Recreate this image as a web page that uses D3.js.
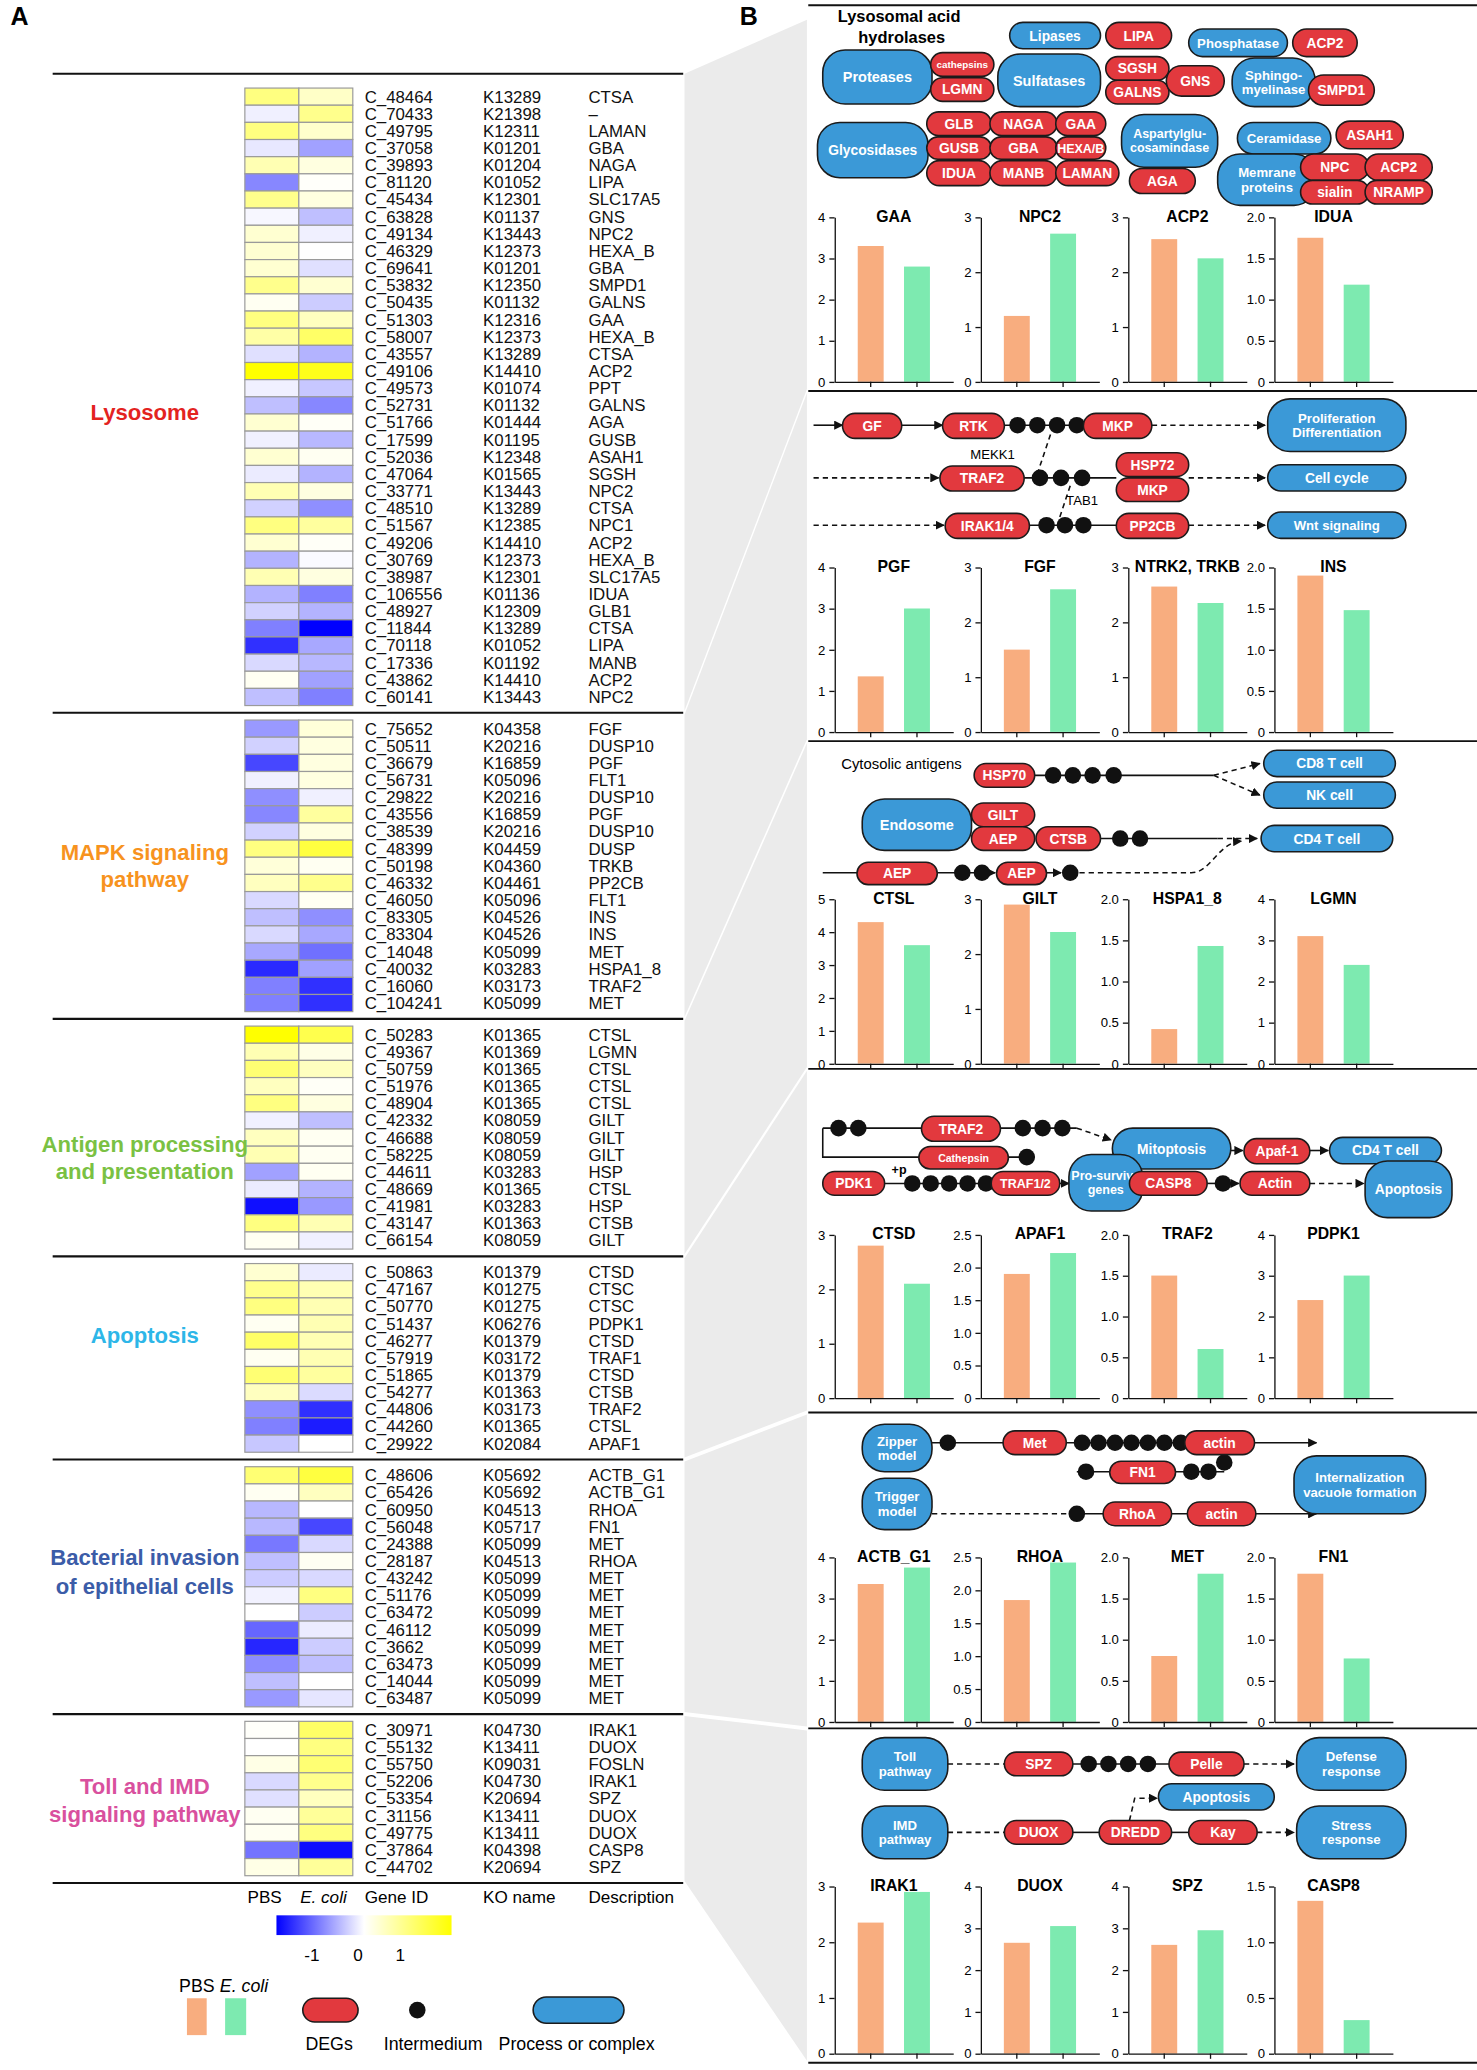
<!DOCTYPE html>
<html>
<head>
<meta charset="utf-8">
<script src="https://cdn.jsdelivr.net/npm/d3@7"></script>
<style>
body { margin: 0; background: #fff; }
svg { display: block; font-family: "Liberation Sans", Arial, sans-serif; }
</style>
</head>
<body>
<svg id="fig" width="1477" height="2070" viewBox="0 0 1122 1572.5"></svg>
<script>
// ---- heatmap data: [gene id, KO, description, PBS, E. coli] ----
var lysosomeRows = [
  ["C_48464","K13289","CTSA",0.5,0.22], ["C_70433","K21398","\u2013",-0.06,0.45],
  ["C_49795","K12311","LAMAN",0.5,0.2], ["C_37058","K01201","GBA",-0.09,-0.37],
  ["C_39893","K01204","NAGA",0.3,0.12], ["C_81120","K01052","LIPA",-0.47,0.02],
  ["C_45434","K12301","SLC17A5",0.45,0.12], ["C_63828","K01137","GNS",-0.03,-0.25],
  ["C_49134","K13443","NPC2",0.18,-0.06], ["C_46329","K12373","HEXA_B",0.18,0.0],
  ["C_69641","K01201","GBA",0.18,-0.12], ["C_53832","K12350","SMPD1",0.45,0.18],
  ["C_50435","K01132","GALNS",0.05,-0.2], ["C_51303","K12316","GAA",0.5,0.25],
  ["C_58007","K12373","HEXA_B",0.35,0.6], ["C_43557","K13289","CTSA",-0.12,-0.3],
  ["C_49106","K14410","ACP2",1.0,0.9], ["C_49573","K01074","PPT",-0.06,-0.22],
  ["C_52731","K01132","GALNS",-0.25,-0.47], ["C_51766","K01444","AGA",0.18,0.03],
  ["C_17599","K01195","GUSB",-0.06,-0.28], ["C_52036","K12348","ASAH1",0.18,0.05],
  ["C_47064","K01565","SGSH",-0.08,-0.3], ["C_33771","K13443","NPC2",0.3,0.12],
  ["C_48510","K13289","CTSA",-0.18,-0.44], ["C_51567","K12385","NPC1",0.5,0.38],
  ["C_49206","K14410","ACP2",0.18,0.03], ["C_30769","K12373","HEXA_B",-0.3,-0.02],
  ["C_38987","K12301","SLC17A5",0.3,0.12], ["C_106556","K01136","IDUA",-0.3,-0.5],
  ["C_48927","K12309","GLB1",-0.18,-0.3], ["C_11844","K13289","CTSA",-0.5,-1.0],
  ["C_70118","K01052","LIPA",-0.81,-0.34], ["C_17336","K01192","MANB",-0.15,-0.28],
  ["C_43862","K14410","ACP2",0.05,-0.37], ["C_60141","K13443","NPC2",-0.25,-0.5]
];
var mapkRows = [
  ["C_75652","K04358","FGF",-0.4,0.15], ["C_50511","K20216","DUSP10",-0.18,0.12],
  ["C_36679","K16859","PGF",-0.72,0.12], ["C_56731","K05096","FLT1",-0.06,0.12],
  ["C_29822","K20216","DUSP10",-0.44,-0.06], ["C_43556","K16859","PGF",-0.47,0.38],
  ["C_38539","K20216","DUSP10",-0.18,0.12], ["C_48399","K04459","DUSP",0.5,0.75],
  ["C_50198","K04360","TRKB",0.15,0.05], ["C_46332","K04461","PP2CB",0.25,0.45],
  ["C_46050","K05096","FLT1",-0.15,0.05], ["C_83305","K04526","INS",-0.25,-0.44],
  ["C_83304","K04526","INS",-0.15,-0.34], ["C_14048","K05099","MET",-0.34,-0.56],
  ["C_40032","K03283","HSPA1_8",-0.84,-0.37], ["C_16060","K03173","TRAF2",-0.5,-0.81],
  ["C_104241","K05099","MET",-0.5,-0.81]
];
var antigenRows = [
  ["C_50283","K01365","CTSL",1.0,0.7], ["C_49367","K01369","LGMN",0.3,0.1],
  ["C_50759","K01365","CTSL",0.55,0.25], ["C_51976","K01365","CTSL",0.25,0.03],
  ["C_48904","K01365","CTSL",0.5,0.12], ["C_42332","K08059","GILT",-0.06,-0.25],
  ["C_46688","K08059","GILT",0.25,0.05], ["C_58225","K08059","GILT",0.3,0.05],
  ["C_44611","K03283","HSP",-0.37,0.05], ["C_48669","K01365","CTSL",-0.08,-0.3],
  ["C_41981","K03283","HSP",-0.94,-0.4], ["C_43147","K01363","CTSB",0.5,0.3],
  ["C_66154","K08059","GILT",0.05,-0.06]
];
var apoptosisRows = [
  ["C_50863","K01379","CTSD",0.18,-0.08], ["C_47167","K01275","CTSC",0.45,0.3],
  ["C_50770","K01275","CTSC",0.5,0.3], ["C_51437","K06276","PDPK1",0.05,0.3],
  ["C_46277","K01379","CTSD",0.6,0.3], ["C_57919","K03172","TRAF1",0.05,0.3],
  ["C_51865","K01379","CTSD",0.55,0.38], ["C_54277","K01363","CTSB",0.25,-0.14],
  ["C_44806","K03173","TRAF2",-0.44,-0.81], ["C_44260","K01365","CTSL",-0.5,-0.89],
  ["C_29922","K02084","APAF1",-0.22,0.0]
];
var bacterialRows = [
  ["C_48606","K05692","ACTB_G1",0.55,0.75], ["C_65426","K05692","ACTB_G1",0.05,0.25],
  ["C_60950","K04513","RHOA",-0.28,0.0], ["C_56048","K05717","FN1",-0.28,-0.72],
  ["C_24388","K05099","MET",-0.53,-0.15], ["C_28187","K04513","RHOA",-0.25,0.05],
  ["C_43242","K05099","MET",-0.2,-0.15], ["C_51176","K05099","MET",-0.05,0.5],
  ["C_63472","K05099","MET",0.0,-0.2], ["C_46112","K05099","MET",-0.6,-0.08],
  ["C_3662","K05099","MET",-0.85,-0.2], ["C_63473","K05099","MET",-0.45,-0.25],
  ["C_14044","K05099","MET",-0.25,0.0], ["C_63487","K05099","MET",-0.4,-0.1]
];
var tollRows = [
  ["C_30971","K04730","IRAK1",0.02,0.6], ["C_55132","K13411","DUOX",0.0,0.5],
  ["C_55750","K09031","FOSLN",0.1,0.55], ["C_52206","K04730","IRAK1",-0.15,0.45],
  ["C_53354","K20694","SPZ",-0.12,0.25], ["C_31156","K13411","DUOX",0.05,0.4],
  ["C_49775","K13411","DUOX",0.05,0.5], ["C_37864","K04398","CASP8",-0.55,-0.95],
  ["C_44702","K20694","SPZ",0.1,0.4]
];
var pathwayNames = [["Lysosome"], ["MAPK signaling","pathway"], ["Antigen processing","and presentation"],
                    ["Apoptosis"], ["Bacterial invasion","of epithelial cells"], ["Toll and IMD","signaling pathway"]];
var pathwayColors = ["#e3231f", "#f7931e", "#7ac143", "#2db6e8", "#3b5ca8", "#d9509e"];
var columnLabels = ["PBS", "E. coli", "Gene ID", "KO name", "Description"];
var legendTicks = [-1, 0, 1];

// ---- bar charts (relative expression) ----
var barGenes = [["GAA","NPC2","ACP2","IDUA"], ["PGF","FGF","NTRK2, TRKB","INS"], ["CTSL","GILT","HSPA1_8","LGMN"],
                ["CTSD","APAF1","TRAF2","PDPK1"], ["ACTB_G1","RHOA","MET","FN1"], ["IRAK1","DUOX","SPZ","CASP8"]];
var pbsBars   = [[3.3,1.2,2.6,1.75], [1.35,1.5,2.65,1.9], [4.3,2.9,0.42,3.1], [2.8,1.9,1.5,2.4], [3.35,1.85,0.8,1.8], [2.35,2.65,2.6,1.37]];
var ecoliBars = [[2.8,2.7,2.25,1.18], [3.0,2.6,2.35,1.48], [3.6,2.4,1.43,2.4], [2.1,2.22,0.6,3.0], [3.75,2.42,1.8,0.77], [2.9,3.05,2.95,0.3]];
var barMax    = [[4,3,3,2], [4,3,3,2], [5,3,2,4], [3,2.5,2,4], [4,2.5,2,2], [3,4,4,1.5]];
var groups = ["PBS", "E. coli"];

var svg = d3.select("#fig");
var BLUE = "#3b99d7", RED = "#e2393e", ORANGE = "#f8ad7f", GREEN = "#7deab0";
var heat = d3.scaleLinear().domain([-1, 0, 1]).range(["#0000ff", "#ffffff", "#ffff00"]).clamp(true);

var defs = svg.append("defs");
defs.append("marker").attr("id", "arr").attr("viewBox", "0 0 10 10").attr("refX", 9).attr("refY", 5)
  .attr("markerWidth", 7).attr("markerHeight", 7).attr("markerUnits", "userSpaceOnUse").attr("orient", "auto")
  .append("path").attr("d", "M0,0L10,5L0,10z").attr("fill", "#111");
var grad = defs.append("linearGradient").attr("id", "hg");
[-1, 0, 1].forEach(function (v) {
  grad.append("stop").attr("offset", ((v + 1) / 2 * 100) + "%").attr("stop-color", heat(v));
});

// ---- panel A ----
var allRows = [lysosomeRows, mapkRows, antigenRows, apoptosisRows, bacterialRows, tollRows];
var rowH = 13.03, hmX = 186, colW = 41;
var labelY = [[313], [647, 668], [869, 890], [1014], [1183, 1205], [1357, 1378]];
var aSeps = [56];
var rowTop = 66.9, tops = [];
allRows.forEach(function (rows) {
  tops.push(rowTop);
  var bottom = rowTop + rows.length * rowH;
  aSeps.push(bottom + 5.5);
  rowTop = bottom + 11;
});
var bSeps = [4, 297, 563, 812, 1073, 1313, 1567];

// grey wedges linking panels
allRows.forEach(function (rows, i) {
  var a0 = i === 0 ? aSeps[0] : aSeps[i] + 1.5, a1 = aSeps[i + 1] - 1.5;
  var b0 = i === 0 ? 15 : bSeps[i] + 1.5, b1 = bSeps[i + 1] - 1.5;
  svg.append("polygon").attr("points", [[520, a0], [613, b0], [613, b1], [520, a1]].join(" "))
    .attr("fill", "#ebebeb");
});

aSeps.forEach(function (y) {
  svg.append("line").attr("x1", 40).attr("x2", 519).attr("y1", y).attr("y2", y)
    .attr("stroke", "#111").attr("stroke-width", 1.6);
});

svg.append("text").attr("x", 8).attr("y", 19).attr("font-size", 19).attr("font-weight", "bold").text("A");
svg.append("text").attr("x", 562).attr("y", 19).attr("font-size", 19).attr("font-weight", "bold").text("B");

allRows.forEach(function (rows, gi) {
  var g = svg.append("g");
  var y = d3.scaleBand().domain(d3.range(rows.length)).range([tops[gi], tops[gi] + rows.length * rowH]);
  g.selectAll("rect.p").data(rows).enter().append("rect")
    .attr("x", hmX).attr("y", function (d, i) { return y(i); }).attr("width", colW).attr("height", y.bandwidth())
    .attr("fill", function (d) { return heat(d[3]); }).attr("stroke", "#9a9a9a").attr("stroke-width", 0.9);
  g.selectAll("rect.e").data(rows).enter().append("rect")
    .attr("x", hmX + colW).attr("y", function (d, i) { return y(i); }).attr("width", colW).attr("height", y.bandwidth())
    .attr("fill", function (d) { return heat(d[4]); }).attr("stroke", "#9a9a9a").attr("stroke-width", 0.9);
  [277, 367, 447].forEach(function (tx, k) {
    g.selectAll("text.c" + k).data(rows).enter().append("text")
      .attr("x", tx).attr("y", function (d, i) { return y(i) + rowH / 2 + 4.5; })
      .attr("font-size", 12.8).attr("fill", "#111").text(function (d) { return d[k]; });
  });
  pathwayNames[gi].forEach(function (line, li) {
    svg.append("text").attr("x", 110).attr("y", labelY[gi][li] + 6).attr("text-anchor", "middle")
      .attr("font-size", 16.8).attr("font-weight", "bold").attr("fill", pathwayColors[gi]).text(line);
  });
});

var headX = [188, 228, 277, 367, 447];
columnLabels.forEach(function (t, i) {
  svg.append("text").attr("x", headX[i]).attr("y", 1446).attr("font-size", 13)
    .attr("font-style", i === 1 ? "italic" : "normal").text(t);
});

// legend
svg.append("rect").attr("x", 210).attr("y", 1455).attr("width", 133).attr("height", 15).attr("fill", "url(#hg)");
var legX = d3.scaleLinear().domain([-1, 1]).range([240, 304]);
legendTicks.forEach(function (v) {
  svg.append("text").attr("x", legX(v) + (v === -1 ? -3 : 0)).attr("y", 1490).attr("text-anchor", "middle")
    .attr("font-size", 13).text(v);
});
svg.append("text").attr("x", 136).attr("y", 1513).attr("font-size", 13.5).text("PBS");
svg.append("text").attr("x", 167).attr("y", 1513).attr("font-size", 13.5).attr("font-style", "italic").text("E. coli");
svg.append("rect").attr("x", 142).attr("y", 1518).attr("width", 15).attr("height", 28).attr("fill", ORANGE);
svg.append("rect").attr("x", 171).attr("y", 1518).attr("width", 16).attr("height", 28).attr("fill", GREEN);
svg.append("rect").attr("x", 230).attr("y", 1518).attr("width", 42).attr("height", 18).attr("rx", 9)
  .attr("fill", RED).attr("stroke", "#1b1b1b").attr("stroke-width", 1.2);
svg.append("circle").attr("cx", 317).attr("cy", 1527).attr("r", 6.3).attr("fill", "#111");
svg.append("rect").attr("x", 405).attr("y", 1517).attr("width", 69).attr("height", 20).attr("rx", 10)
  .attr("fill", BLUE).attr("stroke", "#1b1b1b").attr("stroke-width", 1.2);
[["DEGs", 250], ["Intermedium", 329], ["Process or complex", 438]].forEach(function (d) {
  svg.append("text").attr("x", d[1]).attr("y", 1557).attr("text-anchor", "middle").attr("font-size", 13.5).text(d[0]);
});

// ---- panel B ----
bSeps.forEach(function (y) {
  svg.append("line").attr("x1", 614).attr("x2", 1122).attr("y1", y).attr("y2", y)
    .attr("stroke", "#111").attr("stroke-width", 1.4);
});

var dg = svg.append("g");
function pill(n) {
  var label = n[0], x0 = n[1], y0 = n[2], x1 = n[3], y1 = n[4], kind = n[5], fs = n[6] || 10.5;
  var h = y1 - y0;
  dg.append("rect").attr("x", x0).attr("y", y0).attr("width", x1 - x0).attr("height", h)
    .attr("rx", Math.min(h / 2, 17)).attr("fill", kind === "B" ? BLUE : RED)
    .attr("stroke", "#1b1b1b").attr("stroke-width", 1.2);
  var lines = label.split("\n");
  var t = dg.append("text").attr("text-anchor", "middle").attr("fill", "#fff").attr("font-weight", "bold").attr("font-size", fs);
  lines.forEach(function (l, i) {
    t.append("tspan").attr("x", (x0 + x1) / 2)
      .attr("y", (y0 + y1) / 2 + fs * 0.36 + (i - (lines.length - 1) / 2) * fs * 1.1).text(l);
  });
}
function link(pts, dashed, arrow) {
  dg.append("path").attr("d", d3.line()(pts)).attr("fill", "none").attr("stroke", "#111").attr("stroke-width", 1.2)
    .attr("stroke-dasharray", dashed ? "4,3" : null).attr("marker-end", arrow ? "url(#arr)" : null);
}
function dots(xs, y) {
  xs.forEach(function (x) { dg.append("circle").attr("cx", x).attr("cy", y).attr("r", 6.3).attr("fill", "#111"); });
}
function label(t, x, y, fs, anchor, weight) {
  dg.append("text").attr("x", x).attr("y", y).attr("font-size", fs).attr("text-anchor", anchor || "middle")
    .attr("font-weight", weight || "normal").text(t);
}

// section 1: lysosomal acid hydrolases
label("Lysosomal acid", 683, 17, 12.5, "middle", "bold");
label("hydrolases", 685, 33, 12.5, "middle", "bold");
[["Lipases",767,17,836,37,"B"], ["LIPA",840,17,890,37,"R"], ["Phosphatase",903,22,978,43,"B",10],
 ["ACP2",982,22,1031,43,"R"], ["Proteases",625,38,708,79,"B",11], ["cathepsins",707,40,755,58,"R",7.5],
 ["LGMN",707,59,755,77,"R"], ["Sulfatases",758,41,836,81,"B",11], ["SGSH",840,43,888,61,"R"],
 ["GALNS",840,61,888,79,"R"], ["GNS",886,50,930,73,"R"], ["Sphingo-\nmyelinase",936,44,999,81,"B",10],
 ["SMPD1",994,57,1044,80,"R"], ["Glycosidases",621,93,705,135,"B",10.5], ["GLB",704,85,753,103,"R"],
 ["NAGA",752,85,803,103,"R"], ["GAA",802,85,840,103,"R"], ["GUSB",704,104,753,121,"R"],
 ["GBA",752,104,803,121,"R"], ["HEXA/B",802,104,840,121,"R",9.5], ["IDUA",704,122,753,141,"R"],
 ["MANB",752,122,803,141,"R"], ["LAMAN",802,122,850,141,"R"], ["Aspartylglu-\ncosamindase",852,87,925,127,"B",9.5],
 ["AGA",858,128,908,147,"R"], ["Ceramidase",940,93,1011,117,"B",10], ["ASAH1",1015,92,1066,113,"R"],
 ["Memrane\nproteins",925,117,1000,156,"B",10], ["NPC",988,117,1040,137,"R"], ["ACP2",1037,117,1088,137,"R"],
 ["sialin",988,137,1040,155,"R"], ["NRAMP",1037,137,1088,155,"R"]].forEach(pill);

// section 2: MAPK
link([[618,323],[640,323]], false, true);
link([[685,323],[716,323]], false, true);
link([[763,323],[823,323]], false, false);
link([[875,323],[961,323]], true, true);
link([[618,363],[713,363]], true, true);
link([[778,363],[848,363]], false, false);
link([[903,363],[961,363]], true, true);
link([[618,399],[717,399]], true, true);
link([[782,399],[848,399]], false, false);
link([[903,399],[961,399]], true, true);
link([[798,330],[789,357]], true, false);
link([[813,369],[805,393]], true, false);
dots([773,788,803,818,833], 323);
dots([790,806,822], 363);
dots([795,809,823], 399);
[["GF",640,314,685,333,"R"], ["RTK",716,314,763,333,"R"], ["MKP",823,314,875,333,"R"],
 ["Proliferation\nDifferentiation",963,303,1068,343,"B",10], ["TRAF2",714,354,778,373,"R"],
 ["HSP72",848,344,903,362,"R"], ["MKP",848,363,903,381,"R"], ["Cell cycle",963,353,1068,373,"B"],
 ["IRAK1/4",718,390,782,409,"R"], ["PP2CB",848,390,903,409,"R"], ["Wnt signaling",963,389,1068,409,"B",10]].forEach(pill);
label("MEKK1", 754, 349, 10);
label("TAB1", 822, 384, 10);

// section 3: antigen processing
label("Cytosolic antigens", 639, 584, 11.3, "start");
link([[786,589],[922,589]], false, false);
link([[922,589],[957,580]], true, true);
link([[922,589],[957,604]], true, true);
link([[836,637],[925,637]], false, false);
link([[925,637],[955,637]], true, true);
link([[625,663],[651,663]], false, false);
link([[712,663],[756,663]], false, true);
link([[795,663],[806,663]], false, true);
dg.append("path").attr("d", "M820,663 L905,663 C920,663 925,640 943,639").attr("fill", "none").attr("stroke", "#111")
  .attr("stroke-width", 1.2).attr("stroke-dasharray", "4,3").attr("marker-end", "url(#arr)");
dots([800,815,830,846], 589);
dots([851,866], 637);
dots([731,746,813], 663);
[["HSP70",740,580,786,598,"R"], ["CD8 T cell",960,570,1060,590,"B"], ["NK cell",960,594,1060,614,"B"],
 ["Endosome",655,607,738,646,"B",11], ["GILT",738,610,786,628,"R"], ["AEP",738,628,786,646,"R"],
 ["CTSB",787,628,836,646,"R"], ["CD4 T cell",958,627,1058,647,"B"], ["AEP",651,655,712,672,"R"],
 ["AEP",757,655,795,672,"R"]].forEach(pill);

// section 4: apoptosis
link([[625,857],[818,857]], false, false);
link([[625,857],[625,879],[780,879]], false, false);
link([[818,857],[844,866]], true, true);
link([[935,874],[944,874]], false, true);
link([[995,874],[1009,874]], false, true);
link([[672,899],[752,899]], false, true);
link([[805,899],[812,899]], false, true);
link([[917,899],[941,899]], false, true);
link([[995,899],[1036,899]], true, true);
dots([637,652,777,792,807], 857);
dots([780], 879);
dots([693,707,721,735,749], 899);
dots([929], 899);
[["TRAF2",700,848,760,867,"R"], ["Cathepsin",698,871,766,888,"R",8], ["Mitoptosis",845,857,935,888,"B",10.5],
 ["Apaf-1",945,865,995,884,"R"], ["CD4 T cell",1010,864,1095,884,"B"], ["PDK1",625,890,672,908,"R"],
 ["TRAF1/2",753,890,805,908,"R",9.5], ["Pro-surviva\ngenes",812,877,868,920,"B",9.5],
 ["CASP8",858,890,917,908,"R"], ["Actin",942,890,995,908,"R"], ["Apoptosis",1037,882,1103,925,"B",10.5]].forEach(pill);
label("+p", 683, 892, 9.5, "middle", "bold");

// section 5: bacterial invasion
link([[708,1096],[1000,1096]], false, true);
link([[818,1118],[930,1118]], false, false);
link([[708,1150],[812,1150]], true, false);
link([[812,1150],[1000,1150]], false, true);
dots([720], 1096);
dots([822,834.5,847,859.5,872,884.5,897], 1096);
dots([825,905,918], 1118);
dots([930], 1111);
dots([818], 1150);
[["Zipper\nmodel",655,1082,708,1118,"B",10], ["Met",762,1087,810,1105,"R"], ["actin",900,1087,953,1105,"R"],
 ["FN1",843,1110,893,1127,"R"], ["Trigger\nmodel",655,1123,708,1162,"B",10], ["RhoA",838,1141,890,1159,"R"],
 ["actin",902,1141,954,1159,"R"], ["Internalization\nvacuole formation",983,1106,1083,1150,"B",10]].forEach(pill);

// section 6: Toll and IMD
link([[720,1340],[763,1340]], true, false);
link([[815,1340],[888,1340]], false, false);
link([[945,1340],[983,1340]], true, true);
link([[720,1392],[763,1392]], true, false);
link([[815,1392],[835,1392]], false, false);
link([[890,1392],[903,1392]], false, false);
link([[955,1392],[983,1392]], true, true);
link([[858,1383],[862,1366],[879,1366]], true, true);
dots([827,842,857,872], 1340);
[["Toll\npathway",655,1320,720,1360,"B",10], ["SPZ",763,1331,815,1349,"R"], ["Pelle",888,1331,945,1349,"R"],
 ["Defense\nresponse",985,1320,1068,1360,"B",10], ["Apoptosis",880,1355,968,1375,"B"],
 ["IMD\npathway",655,1372,720,1412,"B",10], ["DUOX",763,1383,815,1401,"R"], ["DREDD",835,1383,890,1401,"R"],
 ["Kay",903,1383,955,1401,"R"], ["Stress\nresponse",985,1372,1068,1412,"B",10]].forEach(pill);

// bar charts
var chartAxisX = [634, 745, 857, 968];
var chartY = [[165, 290], [431, 556], [683, 808], [938, 1062], [1183, 1308], [1433, 1560]];
barGenes.forEach(function (genes, s) {
  genes.forEach(function (gene, j) {
    var max = barMax[s][j], step = max <= 2.5 ? 0.5 : 1;
    var y = d3.scaleLinear().domain([0, max]).range([chartY[s][1], chartY[s][0]]);
    var x = d3.scaleBand().domain(groups).range([0, 90]).paddingInner(0.44).paddingOuter(0.5);
    var g = svg.append("g").attr("transform", "translate(" + chartAxisX[j] + ",0)");
    var vals = [pbsBars[s][j], ecoliBars[s][j]];
    g.selectAll("rect").data(vals).enter().append("rect")
      .attr("x", function (d, i) { return x(groups[i]); }).attr("width", x.bandwidth())
      .attr("y", function (d) { return y(d); }).attr("height", function (d) { return y(0) - y(d); })
      .attr("fill", function (d, i) { return i === 0 ? ORANGE : GREEN; });
    var ya = g.append("g").call(d3.axisLeft(y).tickValues(d3.range(0, max + 1e-9, step)).tickSize(4).tickSizeOuter(0)
      .tickFormat(function (v) { return v === 0 ? "0" : (step < 1 ? d3.format(".1f")(v) : d3.format("d")(v)); }));
    var xa = g.append("g").attr("transform", "translate(0," + chartY[s][1] + ")")
      .call(d3.axisBottom(x).tickSize(4).tickSizeOuter(0).tickFormat(""));
    [ya, xa].forEach(function (a) {
      a.attr("font-size", 10).attr("font-family", "Liberation Sans, Arial, sans-serif");
      a.selectAll("path,line").attr("stroke", "#111").attr("stroke-width", 1);
    });
    g.append("text").attr("x", 45).attr("y", chartY[s][0] + 3.5).attr("text-anchor", "middle")
      .attr("font-size", 12).attr("font-weight", "bold").text(gene);
  });
});
</script>
</body>
</html>
